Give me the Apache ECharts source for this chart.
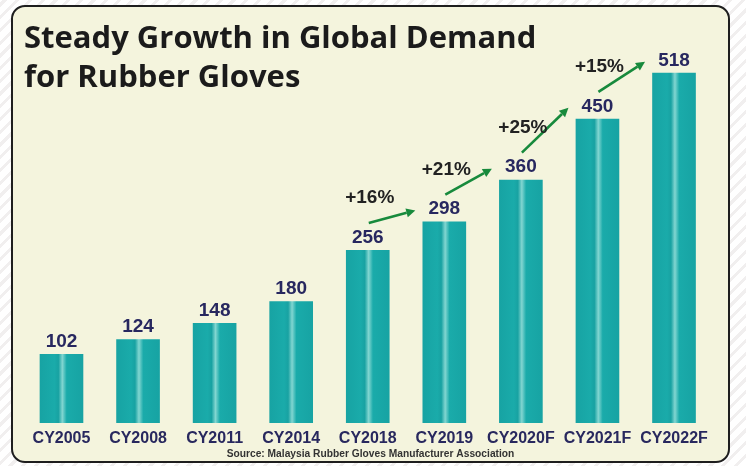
<!DOCTYPE html>
<html>
<head>
<meta charset="utf-8">
<script src="https://cdn.jsdelivr.net/npm/echarts@6/dist/echarts.min.js"></script>
<style>
html,body{margin:0;padding:0;width:746px;height:466px;overflow:hidden;
background:#fff repeating-linear-gradient(-45deg,#ffffff 0px,#ffffff 6px,#f1efef 6px,#f1efef 9px);}
#c{width:746px;height:466px;}
</style>
</head>
<body>
<div id="c"></div>
<script>
var categories = ['CY2005','CY2008','CY2011','CY2014','CY2018','CY2019','CY2020F','CY2021F','CY2022F'];
var demand = [102,124,148,180,256,298,360,450,518];
var growthFrom = [4,5,6,7];
var growthLabels = ['+16%','+21%','+25%','+15%'];
var titleText = 'Steady Growth in Global Demand\nfor Rubber Gloves';
var sourceText = 'Source: Malaysia Rubber Gloves Manufacturer Association';

var chart = echarts.init(document.getElementById('c'));

var arrowData = growthFrom.map(function(i, k){
  return [i, demand[i], demand[i+1], growthLabels[k]];
});

var barGradient = new echarts.graphic.LinearGradient(0,0,1,0,[
  {offset:0, color:'#17a3a3'},
  {offset:0.34, color:'#1aabaa'},
  {offset:0.43, color:'#18a2a2'},
  {offset:0.52, color:'#82d6d1'},
  {offset:0.62, color:'#1aabaa'},
  {offset:1, color:'#17a3a3'}
]);

chart.setOption({
  backgroundColor: 'transparent',
  animation: false,
  title: {
    text: titleText,
    left: 19,
    top: 15,
    textStyle: {fontFamily:'Open Sans', fontWeight:'bold', fontSize:31, lineHeight:39, color:'#1b1b1b'}
  },
  graphic: [
    {type:'rect', z:-10, silent:true,
     shape:{x:12,y:6,width:717,height:456,r:13},
     style:{fill:'#f4f4dd', stroke:'#1e1e1e', lineWidth:2}},
    {type:'text', z:5, silent:true, x:370.5, y:453.5, scaleX:0.93,
     style:{text:sourceText, fontFamily:'Liberation Sans', fontWeight:'bold', fontSize:11,
            fill:'#333333', align:'center', verticalAlign:'middle'}}
  ],
  grid: {left:23.2, right:33.7, top:17.4, bottom:43, containLabel:false},
  xAxis: {
    type:'category', data:categories,
    axisLine:{show:false}, axisTick:{show:false},
    axisLabel:{margin:8, interval:0, fontFamily:'Liberation Sans', fontWeight:'bold',
               fontSize:16, color:'#28285e'}
  },
  yAxis: {type:'value', min:0, max:600, show:false, splitLine:{show:false}},
  series: [
    {type:'bar', data:demand, barWidth:'57%',
     itemStyle:{color:barGradient},
     label:{show:true, position:'top', distance:3, fontFamily:'Liberation Sans', fontWeight:'bold',
            fontSize:19, color:'#27275f'}},
    {type:'custom', data:arrowData, z:10,
     renderItem:function(params, api){
       var i = api.value(0);
       var p1 = api.coord([i, api.value(1)]);
       var p2 = api.coord([i+1, api.value(2)]);
       var s = [p1[0]+1, p1[1]-27];
       var e = [p2[0]-29, p2[1]-11];
       var ang = Math.atan2(e[1]-s[1], e[0]-s[0]);
       var L = 9, W = 4.5;
       var bx = e[0]-L*Math.cos(ang), by = e[1]-L*Math.sin(ang);
       var nx = -Math.sin(ang), ny = Math.cos(ang);
       var lbl = arrowData[params.dataIndex][3];
       return {type:'group', children:[
         {type:'line', shape:{x1:s[0],y1:s[1],x2:bx,y2:by},
          style:{stroke:'#178a3c', lineWidth:2.6}},
         {type:'polygon', shape:{points:[[e[0],e[1]],[bx+nx*W,by+ny*W],[bx-nx*W,by-ny*W]]},
          style:{fill:'#178a3c'}},
         {type:'text', x:s[0]+1, y:s[1]-25,
          style:{text:lbl, fontFamily:'Liberation Sans', fontWeight:'bold', fontSize:19,
                 fill:'#222222', align:'center', verticalAlign:'middle'}}
       ]};
     }}
  ]
});
</script>
</body>
</html>
